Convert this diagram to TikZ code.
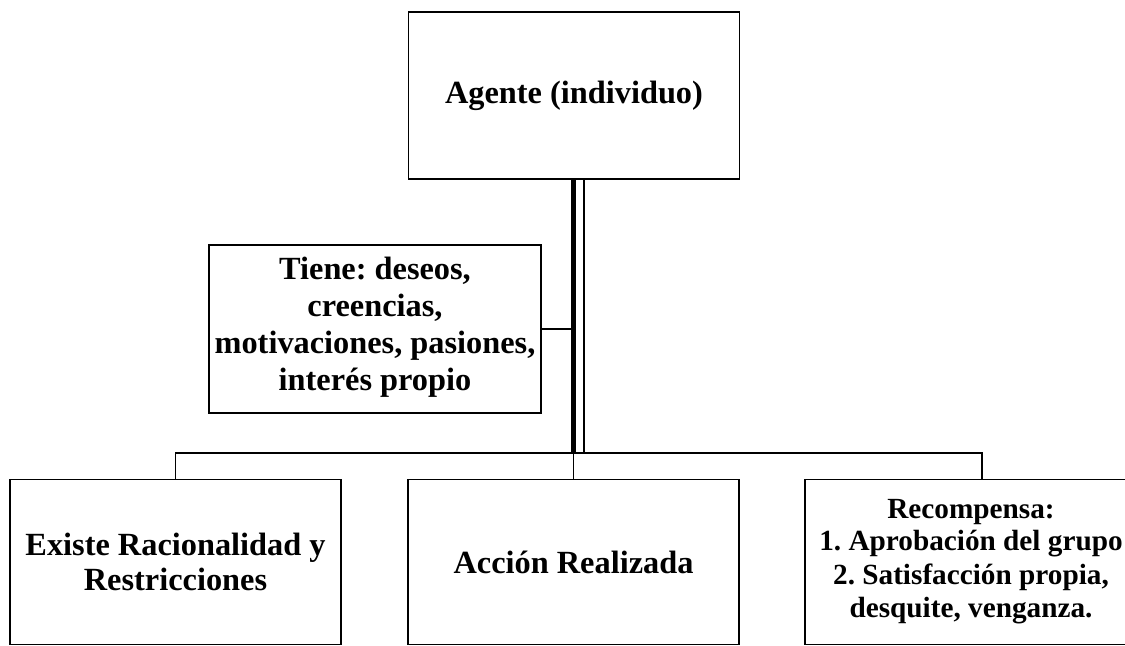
\documentclass[tikz,border=0pt]{standalone}
\usepackage{fontspec}
\setmainfont{Liberation Serif}

\def\midX{573.5}
\def\busY{453}
\def\rowY{562}

\begin{document}
\begin{tikzpicture}[x=0.025cm, y=-0.025cm, line width=1.3pt,
    box/.style={draw, align=center, minimum width=8.275cm, minimum height=4.125cm,
        font=\fontsize{23}{23}\selectfont\bfseries\frenchspacing},
    trunk/.style={line width=3.3pt}]
    \clip (0,0) rectangle (1125,645);

    \node[box, minimum height=4.175cm] (agente) at (574,95.5) {Agente (individuo)};
    \node[box, minimum width=8.3cm, minimum height=4.2cm] (tiene) at (375,329) {};
    \node[align=center, font=\fontsize{23}{21}\selectfont\bfseries\frenchspacing] (tienetxt) at (375,327)
        {Tiene: deseos,\\[5.2pt] creencias,\\[5.2pt] motivaciones, pasiones,\\[5.2pt] interés propio};

    \node[box] (existe) at (175.5,\rowY) {Existe Racionalidad y\\[2.1pt] Restricciones};
    \node[box] (accion) at (\midX,\rowY) {Acción Realizada};
    \node[box, minimum width=8.3cm, font=\fontsize{20.8}{20}\selectfont\bfseries\frenchspacing] (premio) at (971,\rowY)
        {Recompensa:\\[2.7pt] 1. Aprobación del grupo\\[4.2pt] 2. Satisfacción propia,\\[3.5pt] desquite, venganza.};

    \coordinate (bus) at (\midX,\busY);

    % doble linea del agente
    \draw[trunk] (agente.south -| bus) -- (bus);
    \draw ([xshift=0.26cm]agente.south -| bus) -- ([xshift=0.26cm]bus);
    \draw (tiene.east) -- (tiene.east -| bus);

    \draw (existe.north) |- (bus) -| ([xshift=0.275cm]premio.north);
    \draw (bus) -- (accion.north);
\end{tikzpicture}
\end{document}
